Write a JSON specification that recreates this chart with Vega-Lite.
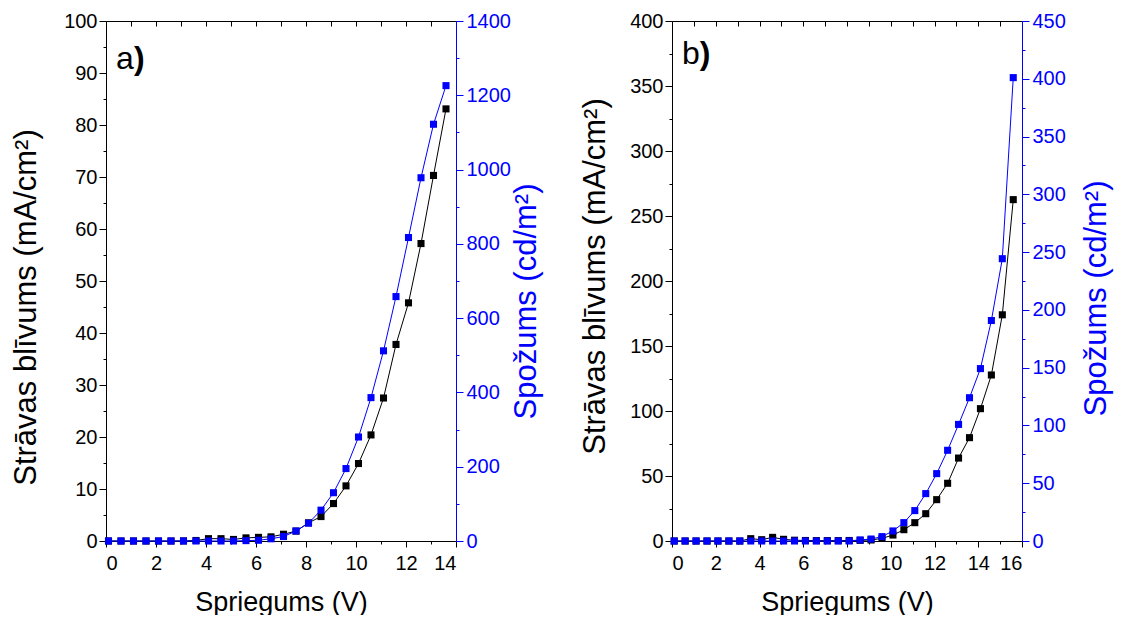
{
  "$schema": "https://vega.github.io/schema/vega-lite/v6.json",
  "padding": {"left": 10, "top": 11, "right": 2, "bottom": 0},
  "background": "white",
  "spacing": 37,
  "config": {
    "view": {"stroke": null},
    "font": "Liberation Sans",
    "axis": {
      "grid": false,
      "labelFont": "Liberation Sans",
      "titleFont": "Liberation Sans",
      "labelFontSize": 20,
      "titleFontSize": 31,
      "titleFontWeight": "normal",
      "labelColor": "black",
      "titleColor": "black",
      "domainColor": "black",
      "tickColor": "black",
      "domainWidth": 1,
      "tickWidth": 1,
      "labelPadding": 3,
      "format": "d"
    }
  },
  "datasets": {
    "a": [
      {"V": 0.1, "J": 0, "L": 0}, {"V": 0.6, "J": 0, "L": 0}, {"V": 1.1, "J": 0, "L": 0},
      {"V": 1.6, "J": 0, "L": 0}, {"V": 2.1, "J": 0, "L": 0}, {"V": 2.6, "J": 0, "L": 0},
      {"V": 3.1, "J": 0.02, "L": 0}, {"V": 3.6, "J": 0.1, "L": 0}, {"V": 4.1, "J": 0.45, "L": 0},
      {"V": 4.6, "J": 0.45, "L": 0}, {"V": 5.1, "J": 0.3, "L": 0}, {"V": 5.6, "J": 0.6, "L": 1},
      {"V": 6.1, "J": 0.7, "L": 2}, {"V": 6.6, "J": 0.8, "L": 6}, {"V": 7.1, "J": 1.3, "L": 12},
      {"V": 7.6, "J": 1.9, "L": 27}, {"V": 8.1, "J": 3.5, "L": 48}, {"V": 8.6, "J": 4.7, "L": 83},
      {"V": 9.1, "J": 7.2, "L": 130}, {"V": 9.6, "J": 10.6, "L": 195}, {"V": 10.1, "J": 14.9, "L": 280},
      {"V": 10.6, "J": 20.4, "L": 386}, {"V": 11.1, "J": 27.5, "L": 512}, {"V": 11.6, "J": 37.8, "L": 658},
      {"V": 12.1, "J": 45.8, "L": 817}, {"V": 12.6, "J": 57.2, "L": 978}, {"V": 13.1, "J": 70.3, "L": 1122},
      {"V": 13.6, "J": 83.1, "L": 1226}
    ],
    "b": [
      {"V": 0.1, "J": 0, "L": 0}, {"V": 0.6, "J": 0, "L": 0}, {"V": 1.1, "J": 0, "L": 0},
      {"V": 1.6, "J": 0, "L": 0}, {"V": 2.1, "J": 0, "L": 0}, {"V": 2.6, "J": 0, "L": 0},
      {"V": 3.1, "J": 0, "L": 0}, {"V": 3.6, "J": 1.8, "L": 0}, {"V": 4.1, "J": 1.0, "L": 0},
      {"V": 4.6, "J": 2.8, "L": 0}, {"V": 5.1, "J": 1.3, "L": 0}, {"V": 5.6, "J": 0.6, "L": 0},
      {"V": 6.1, "J": 0.4, "L": 0}, {"V": 6.6, "J": 0.3, "L": 0}, {"V": 7.1, "J": 0.3, "L": 0},
      {"V": 7.6, "J": 0.3, "L": 0}, {"V": 8.1, "J": 0.4, "L": 0}, {"V": 8.6, "J": 0.5, "L": 0.9},
      {"V": 9.1, "J": 0.8, "L": 1.7}, {"V": 9.6, "J": 2, "L": 3.8}, {"V": 10.1, "J": 4.6, "L": 8.7},
      {"V": 10.6, "J": 8.7, "L": 15.9}, {"V": 11.1, "J": 14.1, "L": 26.3}, {"V": 11.6, "J": 21, "L": 41},
      {"V": 12.1, "J": 31.8, "L": 58.3}, {"V": 12.6, "J": 44.4, "L": 78.5}, {"V": 13.1, "J": 63.8, "L": 100.9},
      {"V": 13.6, "J": 79.5, "L": 124}, {"V": 14.1, "J": 101.8, "L": 149.2}, {"V": 14.6, "J": 127.7, "L": 190.8},
      {"V": 15.1, "J": 174, "L": 244.3}, {"V": 15.6, "J": 262.6, "L": 401}
    ],
    "labels": [{"panel": "a"}]
  },
  "hconcat": [
    {
      "width": 350,
      "height": 520,
      "data": {"name": "a"},
      "resolve": {"scale": {"y": "independent"}, "axis": {"x": "independent", "y": "independent"}},
      "layer": [
        {
          "mark": {"type": "line", "color": "black", "strokeWidth": 1},
          "encoding": {
            "x": {"field": "V", "type": "quantitative", "scale": {"domain": [0, 14], "nice": false},
              "axis": {"orient": "bottom", "values": [0, 2, 4, 6, 8, 10, 12, 14], "title": "Spriegums (V)", "titleFontSize": 27, "tickSize": 6, "labelPadding": 6, "titlePadding": 16}},
            "y": {"field": "J", "type": "quantitative", "scale": {"domain": [0, 100], "nice": false},
              "axis": {"orient": "left", "values": [0, 10, 20, 30, 40, 50, 60, 70, 80, 90, 100], "title": "Strāvas blīvums (mA/cm²)", "tickSize": 7, "labelPadding": 2, "titlePadding": 21, "titleY": 286}}
          }
        },
        {
          "mark": {"type": "square", "color": "black", "size": 50, "opacity": 1},
          "encoding": {
            "x": {"field": "V", "type": "quantitative", "scale": {"domain": [0, 14], "nice": false},
              "axis": {"orient": "bottom", "values": [1, 3, 5, 7, 9, 11, 13], "labels": false, "domain": false, "tickSize": 3, "title": null}},
            "y": {"field": "J", "type": "quantitative", "scale": {"domain": [0, 100], "nice": false},
              "axis": {"orient": "left", "values": [5, 15, 25, 35, 45, 55, 65, 75, 85, 95], "labels": false, "domain": false, "tickSize": 3, "title": null}}
          }
        },
        {
          "mark": {"type": "line", "color": "#0000ff", "strokeWidth": 1},
          "encoding": {
            "x": {"field": "V", "type": "quantitative", "scale": {"domain": [0, 14], "nice": false},
              "axis": {"orient": "top", "values": [0, 1, 2, 3, 4, 5, 6, 7, 8, 9, 10, 11, 12, 13, 14], "labels": false, "tickSize": -5, "title": null}},
            "y": {"field": "L", "type": "quantitative", "scale": {"domain": [0, 1400], "nice": false},
              "axis": {"orient": "right", "values": [0, 200, 400, 600, 800, 1000, 1200, 1400], "title": "Spožums (cd/m²)", "titleAngle": 270, "titleBaseline": "top", "titlePadding": 1, "titleY": 280, "tickSize": 7, "labelPadding": 3,
                "domainColor": "#0000ff", "tickColor": "#0000ff", "labelColor": "#0000ff", "titleColor": "#0000ff"}}
          }
        },
        {
          "mark": {"type": "square", "color": "#0000ff", "size": 50, "opacity": 1},
          "encoding": {
            "x": {"field": "V", "type": "quantitative", "scale": {"domain": [0, 14], "nice": false}, "axis": null},
            "y": {"field": "L", "type": "quantitative", "scale": {"domain": [0, 1400], "nice": false},
              "axis": {"orient": "right", "values": [100, 300, 500, 700, 900, 1100, 1300], "labels": false, "domain": false, "tickSize": 3, "title": null, "tickColor": "#0000ff"}}
          }
        },
        {
          "data": {"name": "labels"},
          "mark": {"type": "text", "text": "a", "fontSize": 32, "fontWeight": "normal", "align": "left", "baseline": "alphabetic", "font": "Liberation Sans", "color": "black"},
          "encoding": {
            "x": {"datum": 0.4, "type": "quantitative", "scale": {"domain": [0, 14], "nice": false}, "axis": null},
            "y": {"datum": 90.8, "type": "quantitative", "scale": {"domain": [0, 100], "nice": false}, "axis": null}
          }
        },
        {
          "data": {"name": "labels"},
          "mark": {"type": "text", "text": ")", "fontSize": 32, "fontWeight": "bold", "align": "left", "baseline": "alphabetic", "font": "Liberation Sans", "color": "black"},
          "encoding": {
            "x": {"datum": 1.12, "type": "quantitative", "scale": {"domain": [0, 14], "nice": false}, "axis": null},
            "y": {"datum": 90.8, "type": "quantitative", "scale": {"domain": [0, 100], "nice": false}, "axis": null}
          }
        }
      ]
    },
    {
      "width": 350,
      "height": 520,
      "data": {"name": "b"},
      "resolve": {"scale": {"y": "independent"}, "axis": {"x": "independent", "y": "independent"}},
      "layer": [
        {
          "mark": {"type": "line", "color": "black", "strokeWidth": 1},
          "encoding": {
            "x": {"field": "V", "type": "quantitative", "scale": {"domain": [0, 16], "nice": false},
              "axis": {"orient": "bottom", "values": [0, 2, 4, 6, 8, 10, 12, 14, 16], "title": "Spriegums (V)", "titleFontSize": 27, "tickSize": 6, "labelPadding": 6, "titlePadding": 16}},
            "y": {"field": "J", "type": "quantitative", "scale": {"domain": [0, 400], "nice": false},
              "axis": {"orient": "left", "values": [0, 50, 100, 150, 200, 250, 300, 350, 400], "title": "Strāvas blīvums (mA/cm²)", "tickSize": 7, "labelPadding": 2, "titlePadding": 18, "titleY": 255}}
          }
        },
        {
          "mark": {"type": "square", "color": "black", "size": 50, "opacity": 1},
          "encoding": {
            "x": {"field": "V", "type": "quantitative", "scale": {"domain": [0, 16], "nice": false},
              "axis": {"orient": "bottom", "values": [1, 3, 5, 7, 9, 11, 13, 15], "labels": false, "domain": false, "tickSize": 3, "title": null}},
            "y": {"field": "J", "type": "quantitative", "scale": {"domain": [0, 400], "nice": false},
              "axis": {"orient": "left", "values": [25, 75, 125, 175, 225, 275, 325, 375], "labels": false, "domain": false, "tickSize": 3, "title": null}}
          }
        },
        {
          "mark": {"type": "line", "color": "#0000ff", "strokeWidth": 1},
          "encoding": {
            "x": {"field": "V", "type": "quantitative", "scale": {"domain": [0, 16], "nice": false},
              "axis": {"orient": "top", "values": [0, 1, 2, 3, 4, 5, 6, 7, 8, 9, 10, 11, 12, 13, 14, 15, 16], "labels": false, "tickSize": -5, "title": null}},
            "y": {"field": "L", "type": "quantitative", "scale": {"domain": [0, 450], "nice": false},
              "axis": {"orient": "right", "values": [0, 50, 100, 150, 200, 250, 300, 350, 400, 450], "title": "Spožums (cd/m²)", "titleAngle": 270, "titleBaseline": "top", "titlePadding": 16, "titleY": 277, "tickSize": 7, "labelPadding": 3,
                "domainColor": "#0000ff", "tickColor": "#0000ff", "labelColor": "#0000ff", "titleColor": "#0000ff"}}
          }
        },
        {
          "mark": {"type": "square", "color": "#0000ff", "size": 50, "opacity": 1},
          "encoding": {
            "x": {"field": "V", "type": "quantitative", "scale": {"domain": [0, 16], "nice": false}, "axis": null},
            "y": {"field": "L", "type": "quantitative", "scale": {"domain": [0, 450], "nice": false},
              "axis": {"orient": "right", "values": [25, 75, 125, 175, 225, 275, 325, 375, 425], "labels": false, "domain": false, "tickSize": 3, "title": null, "tickColor": "#0000ff"}}
          }
        },
        {
          "data": {"name": "labels"},
          "mark": {"type": "text", "text": "b", "fontSize": 32, "fontWeight": "normal", "align": "left", "baseline": "alphabetic", "font": "Liberation Sans", "color": "black"},
          "encoding": {
            "x": {"datum": 0.46, "type": "quantitative", "scale": {"domain": [0, 16], "nice": false}, "axis": null},
            "y": {"datum": 367, "type": "quantitative", "scale": {"domain": [0, 400], "nice": false}, "axis": null}
          }
        },
        {
          "data": {"name": "labels"},
          "mark": {"type": "text", "text": ")", "fontSize": 32, "fontWeight": "bold", "align": "left", "baseline": "alphabetic", "font": "Liberation Sans", "color": "black"},
          "encoding": {
            "x": {"datum": 1.27, "type": "quantitative", "scale": {"domain": [0, 16], "nice": false}, "axis": null},
            "y": {"datum": 367, "type": "quantitative", "scale": {"domain": [0, 400], "nice": false}, "axis": null}
          }
        }
      ]
    }
  ]
}
